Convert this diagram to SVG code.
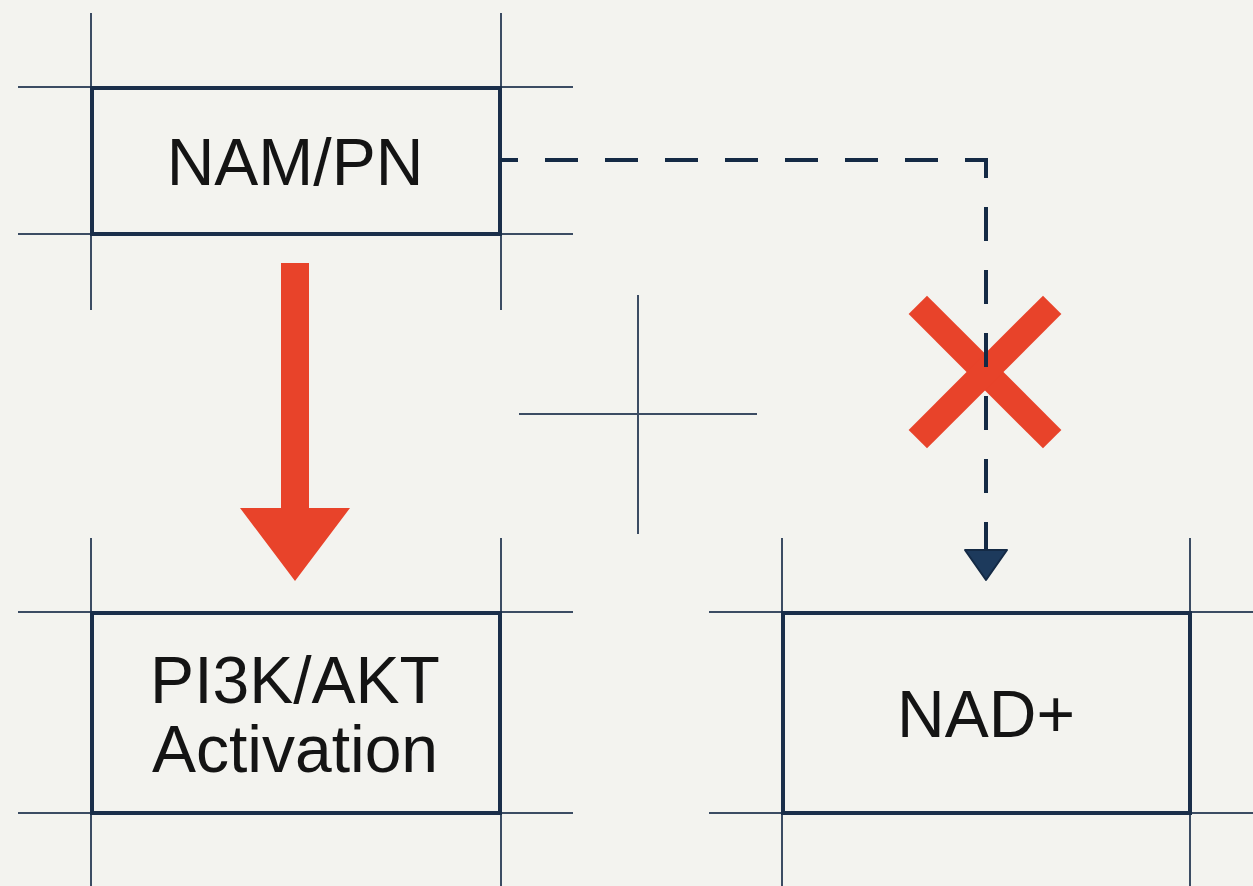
<svg xmlns="http://www.w3.org/2000/svg" width="1253" height="886" viewBox="0 0 1253 886">
<style>
.guide{stroke:#3b4c63;stroke-width:2;fill:none}
.box{fill:none;stroke:#1a2e4a;stroke-width:4}
.label{font-family:"Liberation Sans",Arial,Helvetica,sans-serif;font-size:66px;fill:#141414;text-anchor:middle}
.dash{stroke:#142a45;stroke-width:4;fill:none}
.red{fill:#e8432a}
</style>
<rect x="0" y="0" width="1253" height="886" fill="#f3f3ef"/>
<g id="center-cross">
<line class="guide" x1="638" y1="295" x2="638" y2="534"/>
<line class="guide" x1="519" y1="414" x2="757" y2="414"/>
</g>
<g id="node-nampn">
<line class="guide" x1="91" y1="13" x2="91" y2="310"/>
<line class="guide" x1="501" y1="13" x2="501" y2="310"/>
<line class="guide" x1="18" y1="87" x2="573" y2="87"/>
<line class="guide" x1="18" y1="234" x2="573" y2="234"/>
<rect class="box" x="92" y="88" width="408" height="146"/>
<text class="label" x="295" y="185">NAM/PN</text>
</g>
<g id="node-pi3k">
<line class="guide" x1="91" y1="538" x2="91" y2="886"/>
<line class="guide" x1="501" y1="538" x2="501" y2="886"/>
<line class="guide" x1="18" y1="612" x2="573" y2="612"/>
<line class="guide" x1="18" y1="813" x2="573" y2="813"/>
<rect class="box" x="92" y="613" width="408" height="200"/>
<text class="label" x="295" y="703">PI3K/AKT</text>
<text class="label" x="295" y="772">Activation</text>
</g>
<g id="node-nad">
<line class="guide" x1="782" y1="538" x2="782" y2="886"/>
<line class="guide" x1="1190" y1="538" x2="1190" y2="886"/>
<line class="guide" x1="709" y1="612" x2="1253" y2="612"/>
<line class="guide" x1="709" y1="813" x2="1253" y2="813"/>
<rect class="box" x="783" y="613" width="407" height="200"/>
<text class="label" x="986" y="737">NAD+</text>
</g>
<g id="connectors">
<polygon class="red" points="281,263 309,263 309,508 350,508 295,581 240,508 281,508"/>
<g transform="translate(985,372)">
<rect class="red" x="-95" y="-13" width="190" height="26" transform="rotate(45)"/>
<rect class="red" x="-95" y="-13" width="190" height="26" transform="rotate(-45)"/>
</g>
<path class="dash" d="M500,160 H988" stroke-dasharray="33 27" stroke-dashoffset="15"/>
<path class="dash" d="M986,158 V552" stroke-dasharray="34 29" stroke-dashoffset="14"/>
<polygon points="965,550 1007,550 986,580" fill="#1d3a5c" stroke="#142a45" stroke-width="2" stroke-linejoin="round"/>
</g>
</svg>
